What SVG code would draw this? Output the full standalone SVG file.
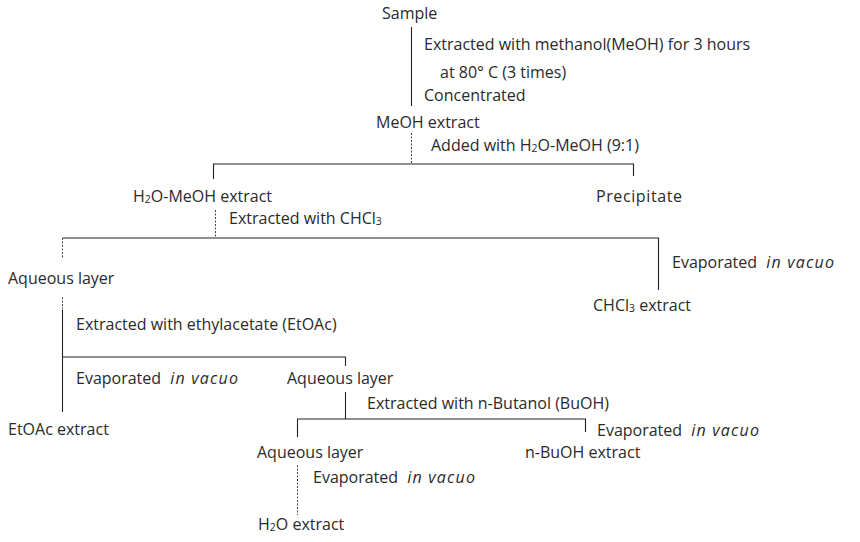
<svg xmlns="http://www.w3.org/2000/svg" width="860" height="542" viewBox="0 0 860 542">
<style>
text{font-family:"Open Sans","Liberation Sans",Arial,sans-serif;font-size:16px;fill:#2a2a2a}
.sub{font-size:10.5px}
.it{font-style:italic;letter-spacing:1.2px}
.l{stroke:#222;stroke-width:1.1;fill:none}
.d{stroke:#444;stroke-width:1;fill:none;stroke-dasharray:2 1.5}
</style>
<rect width="860" height="542" fill="#fff"/>
<g id="connectors">
<path class="l" d="M411.5 27V106"/>
<path class="d" d="M411.5 133V164"/>
<path class="l" d="M213.5 179V164H633.5V176"/>
<path class="d" d="M215.5 210V238"/>
<path class="l" d="M62.5 238H658.5V290"/>
<path class="d" d="M62.5 238V258"/>
<path class="d" d="M62.5 297V310"/>
<path class="l" d="M62.5 310V412"/>
<path class="l" d="M62.5 357H345.5V366"/>
<path class="l" d="M345.5 392V419"/>
<path class="l" d="M297.5 437V419H585.5V432"/>
<path class="d" d="M297.5 465V515"/>
</g>
<g id="sample"><text x="382" y="19">Sample</text></g>
<g id="step1">
<text x="424" y="50">Extracted with methanol(MeOH) for 3 hours</text>
<text x="440" y="78">at 80° C (3 times)</text>
<text x="424" y="101">Concentrated</text>
</g>
<g id="meoh-extract"><text x="376" y="128">MeOH extract</text></g>
<g id="step2"><text x="431" y="151" font-size="15">Added with H<tspan class="sub" dy="1">2</tspan><tspan dy="-1">O-MeOH (9:1)</tspan></text></g>
<g id="h2o-meoh-extract"><text x="133" y="202">H<tspan class="sub" dy="1">2</tspan><tspan dy="-1">O-MeOH extract</tspan></text></g>
<g id="precipitate"><text x="596" y="202" letter-spacing="0.6">Precipitate</text></g>
<g id="step3"><text x="229" y="224">Extracted with CHCl<tspan class="sub" dy="1">3</tspan></text></g>
<g id="aqueous1"><text x="8" y="284">Aqueous layer</text></g>
<g id="evap1"><text x="672" y="268">Evaporated <tspan class="it" dx="5">in vacuo</tspan></text></g>
<g id="chcl3-extract"><text x="593" y="311">CHCl<tspan class="sub" dy="1">3</tspan><tspan dy="-1"> extract</tspan></text></g>
<g id="step4"><text x="76" y="330">Extracted with ethylacetate (EtOAc)</text></g>
<g id="evap2"><text x="76" y="384">Evaporated <tspan class="it" dx="5">in vacuo</tspan></text></g>
<g id="aqueous2"><text x="287" y="384">Aqueous layer</text></g>
<g id="etoac-extract"><text x="8" y="435">EtOAc extract</text></g>
<g id="step5"><text x="367" y="409">Extracted with n-Butanol (BuOH)</text></g>
<g id="evap3"><text x="597" y="436">Evaporated <tspan class="it" dx="5">in vacuo</tspan></text></g>
<g id="aqueous3"><text x="257" y="458">Aqueous layer</text></g>
<g id="buoh-extract"><text x="525" y="458">n-BuOH extract</text></g>
<g id="evap4"><text x="313" y="483">Evaporated <tspan class="it" dx="5">in vacuo</tspan></text></g>
<g id="h2o-extract"><text x="258" y="530">H<tspan class="sub" dy="1">2</tspan><tspan dy="-1">O extract</tspan></text></g>
</svg>
